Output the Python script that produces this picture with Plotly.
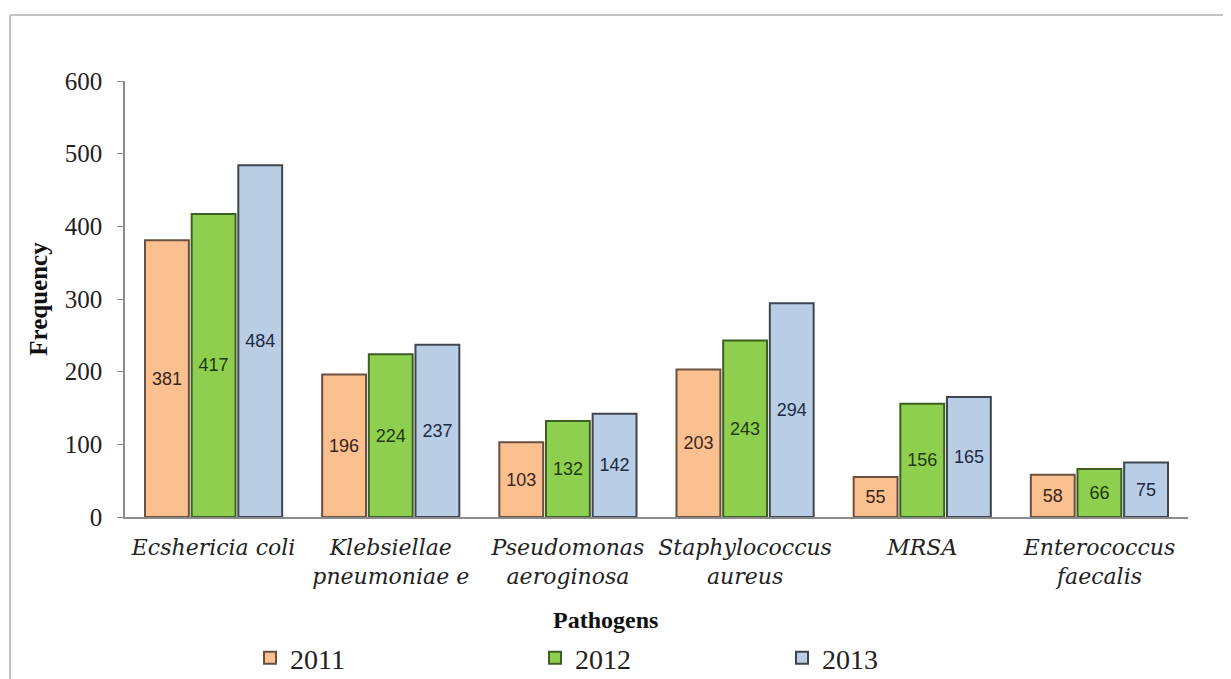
import plotly.graph_objects as go

categories = ["<i>Ecshericia coli</i>", "<i>Klebsiellae<br>pneumoniae e</i>", "<i>Pseudomonas<br>aeroginosa</i>",
              "<i>Staphylococcus<br>aureus</i>", "<i>MRSA</i>", "<i>Enterococcus<br>faecalis</i>"]
years = ["2011", "2012", "2013"]
v2011 = [381, 196, 103, 203, 55, 58]
v2012 = [417, 224, 132, 243, 156, 66]
v2013 = [484, 237, 142, 294, 165, 75]

fills = ["#FAC090", "#8FCF4F", "#B9CDE5"]
lines = ["#6B5040", "#3E5F22", "#3F4650"]
txtcol = ["#3A2418", "#1E3A0C", "#1C2A44"]
legend_ids = ["legend", "legend2", "legend3"]

fig = go.Figure()
for i, (name, vals) in enumerate(zip(years, [v2011, v2012, v2013])):
    fig.add_trace(go.Bar(
        x=categories, y=vals, name=name,
        marker=dict(color=fills[i], line=dict(color=lines[i], width=2)),
        text=[str(v) for v in vals], textposition="inside", insidetextanchor="middle",
        textangle=0,
        textfont=dict(family="Liberation Sans", size=18, color=txtcol[i]),
        legend=legend_ids[i], showlegend=True,
    ))

# page offset of 8px (body margin) -> figure coordinates = reference pixels - 8
OFF = 8
W, H = 1223, 671
L, T = 125 - OFF, 81 - OFF
R = W - (1188 - OFF)
B = H - (517 - OFF)
pw, ph = W - L - R, H - T - B

def px(x):
    return (x - OFF - L) / pw

def py(y):
    return (H - B - (y - OFF)) / ph

def leg(xpix):
    return dict(x=px(xpix), y=py(658), orientation="h", yanchor="middle", xanchor="left",
                font=dict(family="Liberation Serif", size=28, color="#222"),
                bgcolor="rgba(0,0,0,0)", visible=True)

fig.update_layout(
    width=W, height=H,
    margin=dict(l=L, r=R, t=T, b=B, autoexpand=False),
    paper_bgcolor="white", plot_bgcolor="white",
    barmode="group", bargap=0.21, bargroupgap=0.06,
    font=dict(family="Liberation Serif", color="#222"),
    showlegend=True,
    xaxis=dict(showline=True, linecolor="#8C8C8C", linewidth=1.5, ticks="",
               tickfont=dict(family="DejaVu Serif", size=22, color="#222"),
               ticklabelstandoff=10, showgrid=False),
    yaxis=dict(range=[0, 600], dtick=100, showline=True, linecolor="#8C8C8C", linewidth=1.5,
               ticks="outside", ticklen=6, tickcolor="#8C8C8C",
               tickfont=dict(family="Liberation Serif", size=25, color="#222"),
               ticklabelstandoff=10,
               showgrid=False, zeroline=False,
               title=dict(text="<b>Frequency</b>", font=dict(family="Liberation Serif", size=25, color="#111"),
                          standoff=10)),
    legend=leg(250),
    legend2=leg(535),
    legend3=leg(782),
    annotations=[dict(text="<b>Pathogens</b>", xref="paper", yref="paper", x=px(605), y=py(620),
                      showarrow=False, xanchor="center", yanchor="middle",
                      font=dict(family="Liberation Serif", size=24, color="#111"))],
    shapes=[
        dict(type="line", xref="paper", yref="paper", x0=px(10), x1=px(1240), y0=py(15), y1=py(15),
             line=dict(color="#C4C4C4", width=2)),
        dict(type="line", xref="paper", yref="paper", x0=px(10), x1=px(10), y0=py(15), y1=py(690),
             line=dict(color="#C4C4C4", width=2)),
    ],
)

fig.write_html("out.html")
